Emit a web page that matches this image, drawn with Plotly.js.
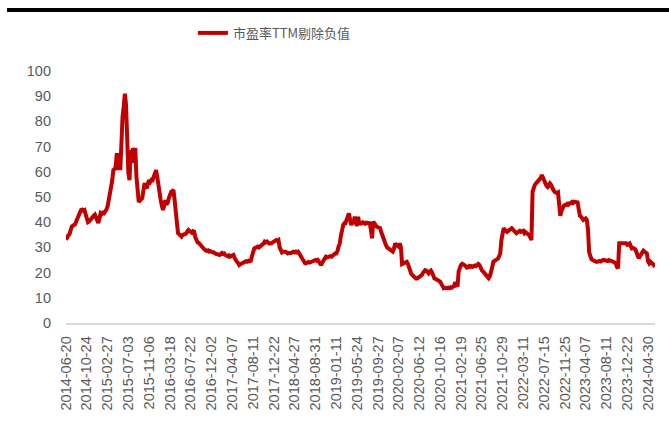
<!DOCTYPE html>
<html>
<head>
<meta charset="utf-8">
<script src="https://cdn.plot.ly/plotly-3.0.1.min.js"></script>
<style>html,body{margin:0;padding:0;background:#fff;}#chart{width:669px;height:425px;}</style>
</head>
<body>
<div id="chart"></div>
<script>
const seriesName = "市盈率TTM剔除负值";
const tickLabels = ["2014-06-20","2014-10-24","2015-02-27","2015-07-03","2015-11-06","2016-03-18","2016-07-22","2016-12-02","2017-04-07","2017-08-11","2017-12-22","2018-04-27","2018-08-31","2019-01-11","2019-05-24","2019-09-27","2020-02-07","2020-06-12","2020-10-16","2021-02-19","2021-06-25","2021-10-29","2022-03-11","2022-07-15","2022-11-25","2023-04-07","2023-08-11","2023-12-22","2024-04-30"];
const weeksPerLabel = 18;
const peValues = [
33.0,34.5,34.8,35.2,37.5,38.3,38.6,38.9,39.2,40.5,41.8,42.4,44.0,44.8,45.0,44.6,44.8,43.0,
41.2,40.0,40.3,41.0,41.2,42.0,42.6,43.0,42.0,40.8,39.7,41.5,43.6,43.3,43.8,43.6,44.2,45.0,
46.2,48.5,50.5,52.8,56.5,60.7,61.0,62.0,67.4,60.7,67.4,60.7,78.0,82.0,86.0,91.0,86.5,70.0,
59.5,56.7,68.7,63.5,69.4,67.5,69.4,58.0,52.0,48.0,48.6,49.2,49.6,52.5,55.5,54.0,53.5,55.5,
56.7,56.0,56.8,56.7,58.0,59.5,60.7,58.0,54.0,51.0,48.8,46.5,44.8,46.5,48.8,47.0,47.6,49.5,
51.6,52.0,52.4,52.8,49.0,45.6,40.0,35.7,35.0,34.5,34.3,35.0,35.2,35.7,35.5,36.3,36.9,36.5,
36.2,35.8,36.4,36.2,34.0,32.3,32.0,31.8,31.0,31.0,30.2,29.6,29.0,28.8,28.6,28.8,28.3,28.5,
28.2,28.3,28.0,27.6,27.5,27.2,27.0,27.0,27.3,27.8,27.4,27.6,27.0,26.8,26.5,26.8,26.3,26.6,
27.0,27.0,25.8,24.8,24.3,23.8,23.0,23.3,23.6,24.0,24.3,24.2,24.5,24.3,24.7,24.5,24.7,26.5,
29.0,29.6,29.8,30.0,30.3,30.0,30.3,30.8,31.0,31.5,32.3,32.0,32.3,31.8,31.5,31.6,31.6,32.0,
32.2,32.5,32.9,32.6,32.9,30.0,28.3,28.0,28.3,28.5,28.3,28.0,27.6,27.8,27.6,27.8,28.1,28.3,
28.0,28.3,28.0,28.3,27.6,27.0,26.3,25.2,24.5,23.7,23.7,24.0,24.2,24.0,24.3,24.3,24.5,24.8,
25.0,24.7,25.0,24.5,23.8,23.0,24.0,25.0,25.8,26.3,26.0,26.3,26.3,26.5,26.3,26.8,27.2,27.6,
27.6,28.5,30.3,31.5,34.5,38.2,38.9,39.6,39.6,41.0,42.0,43.5,41.0,38.9,40.2,40.0,42.2,39.6,
38.5,42.2,39.0,39.8,39.6,40.0,39.6,39.4,39.8,39.6,39.8,39.6,37.0,33.6,40.2,39.0,38.9,38.2,
38.0,37.6,37.6,36.0,34.5,33.0,32.0,31.0,30.0,29.6,29.0,29.0,28.6,28.3,29.5,31.6,31.0,30.8,
30.3,31.6,30.0,23.4,23.7,24.0,24.3,24.3,23.5,22.0,20.5,19.5,19.0,18.5,18.2,17.7,17.7,18.0,
18.5,19.0,19.0,19.8,20.5,21.0,20.8,20.2,19.7,20.4,20.8,20.0,18.5,17.7,17.5,17.3,17.1,17.0,
16.4,15.5,14.2,13.8,14.0,13.8,13.8,14.0,13.8,14.2,14.0,14.4,14.6,16.2,14.6,14.4,20.5,22.3,
23.0,23.5,23.4,23.0,22.6,22.0,22.1,22.6,22.3,22.6,22.3,22.6,22.8,22.6,23.0,23.4,23.0,21.7,
21.0,20.5,20.0,19.5,19.0,18.1,17.8,18.5,19.7,22.0,24.3,24.5,25.0,25.3,25.5,26.5,27.6,32.9,
36.5,37.6,37.0,36.5,36.2,36.6,36.9,37.1,37.6,37.1,36.5,36.2,35.6,36.0,36.2,36.6,36.2,36.6,
36.6,35.6,36.0,35.6,35.3,34.9,34.0,32.9,52.1,54.0,54.8,55.4,56.0,56.5,56.7,57.5,58.7,57.5,
56.0,55.5,54.5,54.0,54.8,55.4,54.8,53.5,52.8,52.1,51.5,51.5,51.8,48.0,42.5,44.5,46.2,46.5,
46.8,46.8,47.3,47.0,47.5,47.5,48.0,47.6,48.1,48.1,48.0,47.8,45.0,42.5,42.2,41.2,40.9,41.2,
41.5,40.9,36.9,28.0,26.0,25.3,25.0,24.6,24.5,24.3,24.3,24.5,24.6,24.4,24.8,25.0,25.0,24.8,
25.0,24.6,25.0,24.7,24.7,24.5,24.3,24.0,23.7,22.3,21.7,31.6,31.6,31.9,31.6,31.9,31.6,31.6,
31.0,31.6,31.6,30.5,29.6,29.8,29.6,29.2,28.0,26.5,25.7,26.5,27.6,28.0,28.7,28.3,27.6,27.6,
24.5,23.7,24.3,24.0,23.3,23.0,22.3
];
const yTicks = [0,10,20,30,40,50,60,70,80,90,100];

const xIdx = peValues.map((_, i) => i);
const tickPos = tickLabels.map((_, k) => k * weeksPerLabel);

const trace = {
  x: xIdx, y: peValues, type: "scatter", mode: "lines", name: seriesName,
  line: {color: "#C00000", width: 4, shape: "linear"},
  showlegend: true, hoverinfo: "skip"
};

const layout = {
  width: 669, height: 425,
  margin: {l: 66, r: 14, t: 71, b: 102, pad: 0},
  paper_bgcolor: "#ffffff", plot_bgcolor: "#ffffff",
  font: {family: "Liberation Sans, Arial, sans-serif", color: "#595959"},
  showlegend: true,
  legend: {
    orientation: "h", x: 0.2155, xanchor: "left", y: 1.151, yanchor: "middle",
    font: {family: "Noto Sans CJK SC, sans-serif", size: 13, color: "#595959"},
    bgcolor: "rgba(0,0,0,0)", itemwidth: 30, borderwidth: 0
  },
  xaxis: {
    range: [0, peValues.length - 1], showgrid: false, zeroline: false,
    showline: true, linecolor: "#d9d9d9", linewidth: 1.5,
    tickmode: "array", tickvals: tickPos, ticktext: tickLabels,
    tickangle: -90, ticks: "", tickfont: {size: 14.5, color: "#595959"},
    ticklabelstandoff: 6, fixedrange: true
  },
  yaxis: {
    range: [0, 100], showgrid: false, zeroline: false, showline: false,
    tickmode: "array", tickvals: yTicks, ticktext: yTicks.map(String),
    ticks: "", tickfont: {size: 14.5, color: "#595959"},
    ticklabelstandoff: 14, fixedrange: true
  },
  shapes: [{
    type: "rect", xref: "paper", yref: "paper",
    x0: -59/589, x1: 603/589, y0: (323-12)/252, y1: (323-8)/252,
    fillcolor: "#000000", line: {width: 0}
  }]
};

Plotly.newPlot("chart", [trace], layout, {displayModeBar: false, staticPlot: true});
</script>
</body>
</html>
